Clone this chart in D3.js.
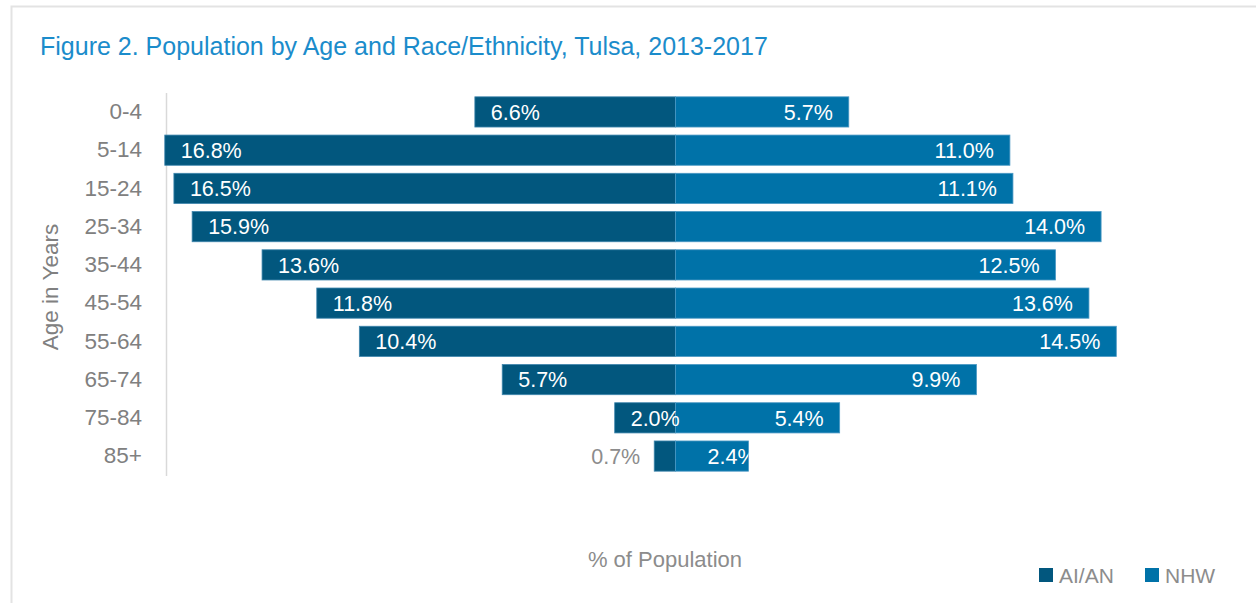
<!DOCTYPE html>
<html>
<head>
<meta charset="utf-8">
<script src="https://cdn.jsdelivr.net/npm/d3@7/dist/d3.min.js"></script>
<style>
  html, body { margin: 0; padding: 0; background: #fff; }
  svg { display: block; font-family: "Liberation Sans", Arial, sans-serif; }
</style>
</head>
<body>
<svg id="chart" width="1256" height="603"></svg>
<script>
// Age groups, top to bottom
const ageGroups = ["0-4", "5-14", "15-24", "25-34", "35-44", "45-54", "55-64", "65-74", "75-84", "85+"];
// Share of population (%) in each age group
const aian = [6.6, 16.8, 16.5, 15.9, 13.6, 11.8, 10.4, 5.7, 2.0, 0.7];
const nhw  = [5.7, 11.0, 11.1, 14.0, 12.5, 13.6, 14.5, 9.9, 5.4, 2.4];
const seriesNames = ["AI/AN", "NHW"];
const seriesColors = ["#02577e", "#0072a8"];

const svg = d3.select("#chart");
const W = 1256, H = 603;

// light frame around the figure
svg.append("rect")
  .attr("x", 11.5).attr("y", 6.5)
  .attr("width", W + 10).attr("height", H + 10)
  .attr("fill", "none").attr("stroke", "#e3e3e3").attr("stroke-width", 2);

// title
svg.append("text")
  .attr("x", 40).attr("y", 55)
  .attr("fill", "#1b8ccb")
  .style("font-size", "25px")
  .text("Figure 2. Population by Age and Race/Ethnicity, Tulsa, 2013-2017");

const center = 675.5;
const pxPerPct = 30.4;
// AI/AN extends left from the centre, NHW to the right
const xLeft = d3.scaleLinear().domain([0, 20]).range([center, center - 20 * pxPerPct]);
const xRight = d3.scaleLinear().domain([0, 20]).range([center, center + 20 * pxPerPct]);
const y = d3.scaleBand().domain(ageGroups).range([93, 475]).paddingInner(0.21).paddingOuter(0.1);

// category axis
const yAxis = d3.axisLeft(y).tickSize(0).tickPadding(0);
const gy = svg.append("g").attr("transform", "translate(142,0)").call(yAxis);
gy.select(".domain").remove();
gy.selectAll("text")
  .attr("fill", "#808080")
  .style("font-size", "22.5px")
  .style("font-family", "'Liberation Sans', Arial, sans-serif");

svg.append("line")
  .attr("x1", 166.5).attr("x2", 166.5)
  .attr("y1", 93).attr("y2", 476)
  .attr("stroke", "#d9d9d9").attr("stroke-width", 1.5);

// axis title
svg.append("text")
  .attr("transform", "translate(58,287) rotate(-90)")
  .attr("text-anchor", "middle")
  .attr("fill", "#808080")
  .style("font-size", "22.5px")
  .text("Age in Years");

const rows = ageGroups.map((g, i) => ({ g, a: aian[i], n: nhw[i] }));

const defs = svg.append("defs");

// AI/AN bars
svg.append("g").selectAll("rect").data(rows).join("rect")
  .attr("x", d => xLeft(d.a))
  .attr("y", d => y(d.g))
  .attr("width", d => center - xLeft(d.a))
  .attr("height", y.bandwidth())
  .attr("fill", seriesColors[0])
  .attr("stroke", "#3f86ad").attr("stroke-width", 0.8);

// NHW bars
svg.append("g").selectAll("rect").data(rows).join("rect")
  .attr("x", center)
  .attr("y", d => y(d.g))
  .attr("width", d => xRight(d.n) - center)
  .attr("height", y.bandwidth())
  .attr("fill", seriesColors[1])
  .attr("stroke", "#4a98c4").attr("stroke-width", 0.8);

// clip regions for the NHW labels
rows.forEach((d, i) => {
  defs.append("clipPath").attr("id", "clipN" + i)
    .append("rect")
    .attr("x", center).attr("y", y(d.g))
    .attr("width", xRight(d.n) - center).attr("height", y.bandwidth());
});

const fmt = v => v.toFixed(1) + "%";
const labelSize = "21.5px";

// AI/AN value labels: inside the bar near its outer end, outside when too narrow
svg.append("g").selectAll("text").data(rows).join("text")
  .attr("x", d => (center - xLeft(d.a)) > 40 ? xLeft(d.a) + 16 : xLeft(d.a) - 14)
  .attr("y", d => y(d.g) + y.bandwidth() / 2)
  .attr("dy", "0.36em")
  .attr("text-anchor", d => (center - xLeft(d.a)) > 40 ? "start" : "end")
  .attr("fill", d => (center - xLeft(d.a)) > 40 ? "#ffffff" : "#8c8c8c")
  .style("font-size", labelSize)
  .text(d => fmt(d.a));

// NHW value labels: inside the bar near its outer end
svg.append("g").selectAll("text").data(rows).join("text")
  .attr("clip-path", (d, i) => (xRight(d.n) - center) < 90 ? "url(#clipN" + i + ")" : null)
  .attr("x", d => (xRight(d.n) - center) < 90 ? center + 32 : xRight(d.n) - 16)
  .attr("y", d => y(d.g) + y.bandwidth() / 2)
  .attr("dy", "0.36em")
  .attr("text-anchor", d => (xRight(d.n) - center) < 90 ? "start" : "end")
  .attr("fill", "#ffffff")
  .style("font-size", labelSize)
  .text(d => fmt(d.n));

// x axis title
svg.append("text")
  .attr("x", 665).attr("y", 567)
  .attr("text-anchor", "middle")
  .attr("fill", "#8c8c8c")
  .style("font-size", "22px")
  .text("% of Population");

// legend
const legendX = [1039, 1145];
const lg = svg.append("g").selectAll("g").data(seriesNames).join("g")
  .attr("transform", (d, i) => `translate(${legendX[i]},568)`);
lg.append("rect").attr("width", 14).attr("height", 14)
  .attr("fill", (d, i) => seriesColors[i]);
lg.append("text")
  .attr("x", 20).attr("y", 7).attr("dy", "0.36em")
  .attr("fill", "#8c8c8c")
  .style("font-size", "21px")
  .text(d => d);
</script>
</body>
</html>
